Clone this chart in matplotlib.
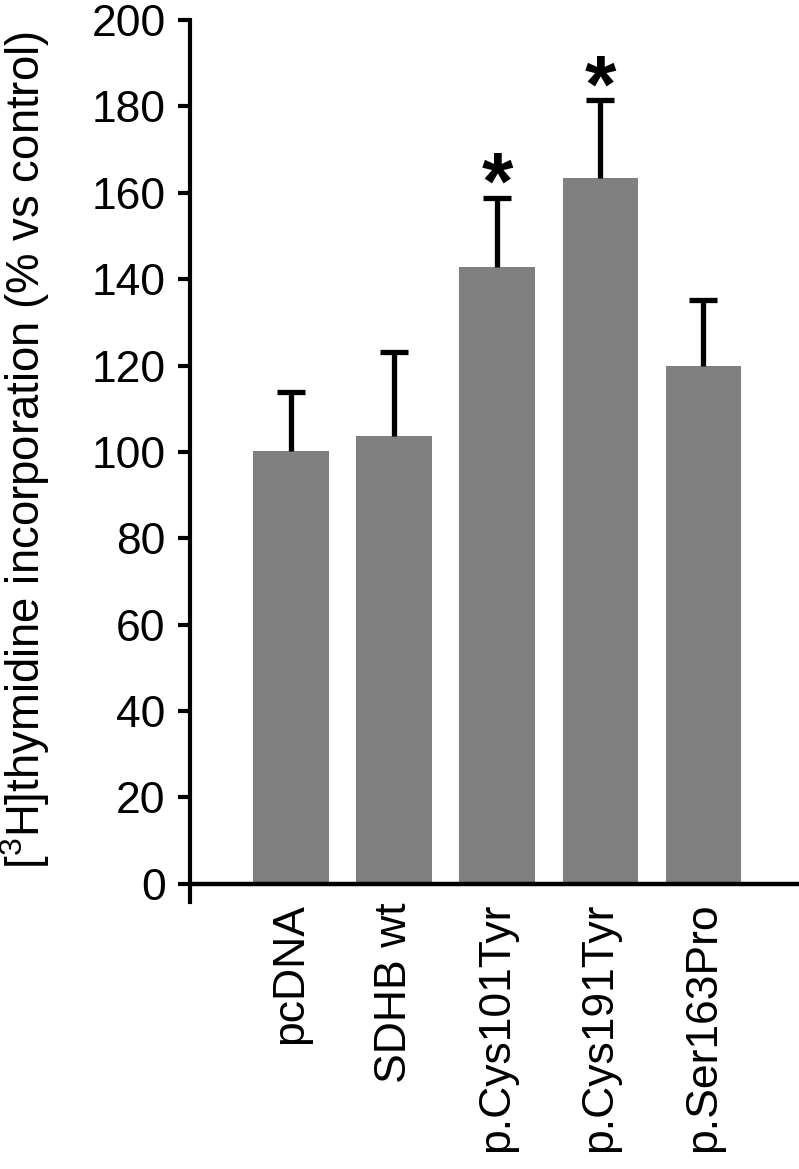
import matplotlib
matplotlib.use('Agg')
import matplotlib.pyplot as plt
import numpy as np

plt.rcParams['font.family'] = ['Liberation Sans', 'DejaVu Sans']
plt.rcParams['mathtext.fontset'] = 'custom'
plt.rcParams['mathtext.rm'] = 'Liberation Sans'

# data
groups = ['pcDNA', 'SDHB wt', 'p.Cys101Tyr', 'p.Cys191Tyr', 'p.Ser163Pro']
means = [100.3, 103.7, 142.9, 163.4, 120.0]
errs = [13.5, 19.4, 16.0, 18.1, 15.2]
significant = [False, False, True, True, False]

x = np.arange(len(groups))

fig = plt.figure(figsize=(7.99, 11.69), dpi=100)
ax = fig.add_axes([190 / 799, 1 - 902 / 1169, 609 / 799, 882 / 1169])

ax.bar(x, means, width=0.73, color='#808080', zorder=2)
_, caps, _ = ax.errorbar(x, means, yerr=[np.zeros(len(errs)), errs], fmt='none', ecolor='black',
                         elinewidth=3.8, capsize=10, capthick=3.8, zorder=3)
caps[0].set_visible(False)  # only the upper cap

# asterisks over the significant groups
for xi, m, e, sig in zip(x, means, errs, significant):
    if sig:
        ax.annotate('*', xy=(xi, m + e), xytext=(0, 7), textcoords='offset points',
                    ha='center', va='center', fontsize=58, fontweight='bold')

ax.axhline(0, color='black', lw=3.2, zorder=4)

ax.set_xlim(-0.98, 4.93)
ax.set_ylim(-4.2, 200)
ax.set_yticks(np.arange(0, 201, 20))
ax.set_xticks(x, groups, rotation=90)

for side in ['top', 'right', 'bottom']:
    ax.spines[side].set_visible(False)
ax.spines['left'].set_linewidth(3)

ax.tick_params(axis='y', direction='out', length=8.6, width=3, pad=9, labelsize=32)
ax.tick_params(axis='x', length=0, pad=0.5, labelsize=32)

ax.set_ylabel(r'[$\mathregular{^3}$H]thymidine incorporation (% vs control)', fontsize=32.8)
ax.yaxis.set_label_coords(-0.227, 0.5125)

plt.savefig('out.png', dpi=100)
